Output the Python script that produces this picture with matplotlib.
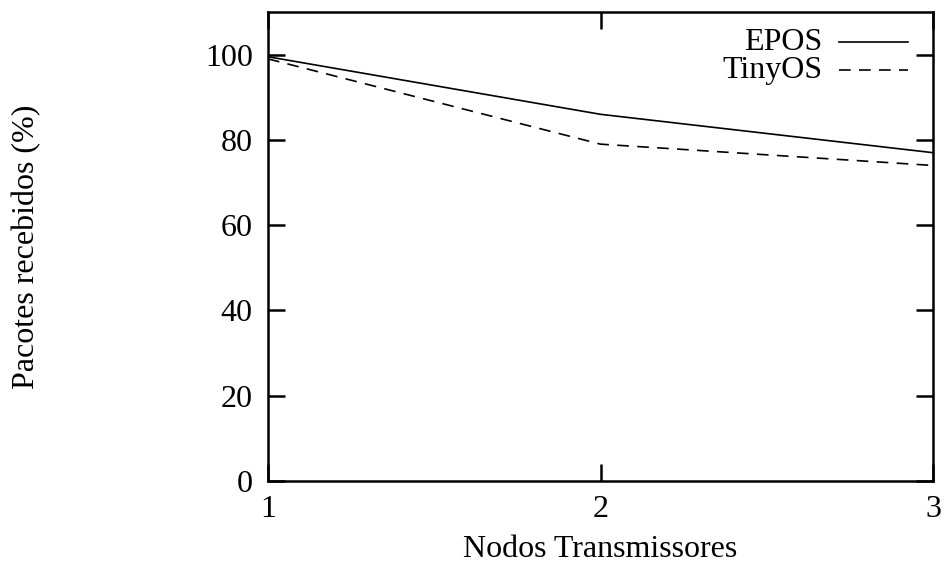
import numpy as np
import matplotlib
matplotlib.use("Agg")
import matplotlib.pyplot as plt

plt.rcParams['font.family'] = ['Liberation Serif', 'DejaVu Serif']

nodos = [1, 2, 3]
epos = [99.5, 86, 77]
tinyos = [99, 79, 74]

fig = plt.figure(figsize=(9.48, 5.68), dpi=100)
ax = fig.add_axes([0.2827, 0.1532, 0.7015, 0.8257])

ax.plot(nodos, epos, color='black', lw=1.2, solid_joinstyle='miter')
ax.plot(nodos, tinyos, color='black', lw=1.2, dashes=(7, 5))

ax.set_xlim(1, 3)
ax.set_ylim(0, 110)
ax.set_xticks([1, 2, 3])
ax.set_yticks(np.arange(0, 101, 20))

for s in ax.spines.values():
    s.set_linewidth(1.8)

ax.tick_params(direction='in', length=12, width=1.8, labelsize=23,
               top=True, right=True)
ax.tick_params(axis='x', pad=10)
ax.tick_params(axis='y', pad=11)

ax.set_xlabel('Nodos Transmissores', fontsize=23, labelpad=8)
ax.set_ylabel('Pacotes recebidos (%)', fontsize=23, labelpad=118)

# legend drawn gnuplot-style: text right aligned, sample on the right
names = ['EPOS', 'TinyOS']
styles = [dict(), dict(dashes=(7, 5))]
for i, (nm, st) in enumerate(zip(names, styles)):
    y = 0.936 - i * 0.06
    ax.text(0.834, y, nm, transform=ax.transAxes, ha='right', va='center',
            fontsize=23)
    ax.plot([0.858, 0.963], [y, y], transform=ax.transAxes, color='black',
            lw=1.2, **st)

fig.savefig('out.png', dpi=100)
